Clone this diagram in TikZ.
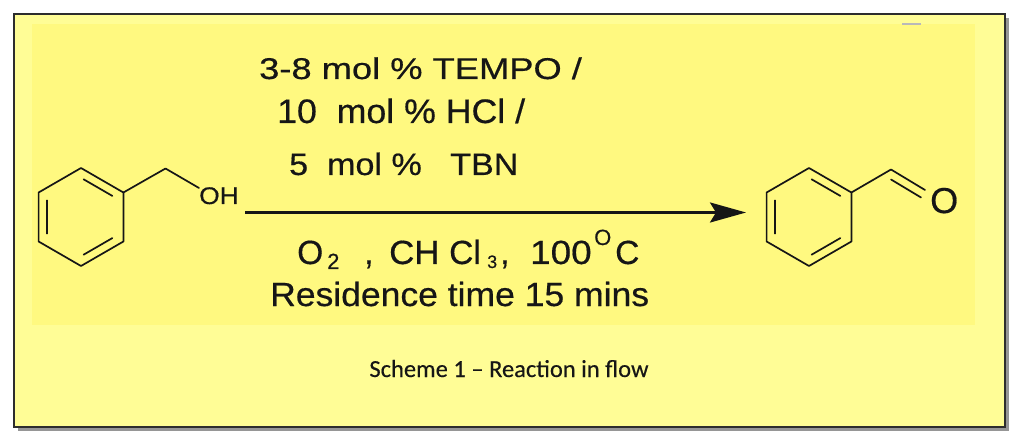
\documentclass[tikz,border=0pt]{standalone}
\usepackage{fontspec}
\setmainfont{Liberation Sans}[FakeBold=0.45]
\newfontfamily\capfont{Carlito}[FakeBold=0.3]
\usetikzlibrary{arrows.meta,calc}
\definecolor{outerY}{RGB}{255,253,150}
\definecolor{innerY}{RGB}{255,249,128}
\definecolor{frameC}{RGB}{45,45,45}
\definecolor{shadowC}{RGB}{150,150,150}
\definecolor{inkC}{RGB}{22,22,22}
\begin{document}
\begin{tikzpicture}[x=1pt,y=-1pt,
  bond/.style={line width=1.7pt, line cap=round, line join=round, draw=inkC},
  dbl/.style={bond, shorten >=3pt, shorten <=3pt},
  txt/.style={inner sep=0pt, anchor=base west, text=inkC},
  bigtxt/.style={txt, font=\fontsize{33.5}{34}\selectfont},
  subtxt/.style={txt, font=\fontsize{22}{22}\selectfont},
  sub3txt/.style={txt, font=\fontsize{18}{18}\selectfont}]
\useasboundingbox (0,0) rectangle (1024,443);
% frame
\fill[shadowC] (18,18) rectangle (1009,431);
\draw[frameC, line width=1.5pt, fill=outerY] (14,14) rectangle (1005,427);
\fill[innerY] (32,24) rectangle (975,325);
\draw[gray!55, line width=1.5pt] (902,24) -- (921,24);
% benzyl alcohol
\coordinate (a0) at (81,217);
\coordinate (a1) at (81,168);
\coordinate (a2) at (123.4,192.5);
\coordinate (a3) at (123.4,241.5);
\coordinate (a4) at (81,266);
\coordinate (a5) at (38.6,241.5);
\coordinate (a6) at (38.6,192.5);
\coordinate (a7) at (165.5,168.5);
\coordinate (a8) at (199,188);
\draw[bond] (a1)--(a2)--(a3)--(a4)--(a5)--(a6)--cycle;
\draw[dbl] ($(a0)!0.8!(a1)$) -- ($(a0)!0.8!(a2)$);
\draw[dbl] ($(a0)!0.8!(a3)$) -- ($(a0)!0.8!(a4)$);
\draw[dbl] ($(a0)!0.8!(a5)$) -- ($(a0)!0.8!(a6)$);
\draw[bond] (a2)--(a7)--(a8);
\node[txt, font=\fontsize{24}{24}\selectfont] (oh) at (199,204) {\scalebox{1.1}[1]{OH}};
% benzaldehyde
\coordinate (b0) at (809,217);
\coordinate (b1) at (809,168);
\coordinate (b2) at (851.4,192.5);
\coordinate (b3) at (851.4,241.5);
\coordinate (b4) at (809,266);
\coordinate (b5) at (766.6,241.5);
\coordinate (b6) at (766.6,192.5);
\coordinate (b7) at (891,169.5);
\coordinate (b8) at (925,190);
\coordinate (b9) at (891,179.5);
\coordinate (b10) at (921,197.5);
\draw[bond] (b1)--(b2)--(b3)--(b4)--(b5)--(b6)--cycle;
\draw[dbl] ($(b0)!0.8!(b1)$) -- ($(b0)!0.8!(b2)$);
\draw[dbl] ($(b0)!0.8!(b3)$) -- ($(b0)!0.8!(b4)$);
\draw[dbl] ($(b0)!0.8!(b5)$) -- ($(b0)!0.8!(b6)$);
\draw[bond] (b2)--(b7)--(b8);
\draw[bond] (b9)--(b10);
\node[txt, font=\fontsize{36}{36}\selectfont] (ox) at (930,213) {O};
% arrow
\coordinate (arrS) at (245,212.5);
\coordinate (arrE) at (746,212.5);
\draw[draw=inkC, fill=inkC, line width=2.8pt, -{Stealth[length=36pt,width=20pt,inset=6pt]}] (arrS) -- (arrE);
% reagents above
\node[txt, font=\fontsize{30}{30}\selectfont] (r1) at (259,79) {\scalebox{1.21}[1]{3-8 mol \% TEMPO /}};
\node[txt, font=\fontsize{34}{34}\selectfont] (r2) at (277,123) {\scalebox{1.05}[1]{10\ \ mol \% HCl /}};
\node[txt, font=\fontsize{31}{31}\selectfont] (r3) at (289,175) {\scalebox{1.1}[1]{5\ \ mol \%\ \ \ TBN}};
% conditions below
\node[bigtxt] (c1) at (297,264) {O};
\node[subtxt] (c2) at (327,269) {2};
\node[bigtxt] (c3) at (364,264) {,};
\node[bigtxt] (c4) at (389,264) {\scalebox{1.04}[1]{CH}};
\node[bigtxt] (c5) at (449,264) {Cl};
\node[sub3txt] (c6) at (487,268) {3};
\node[bigtxt] (c7) at (500,264) {,};
\node[bigtxt] (c8) at (530,264) {\scalebox{1.1}[1]{100}};
\node[subtxt] (c9) at (594,245) {O};
\node[bigtxt] (c10) at (615,264) {C};
\node[txt, font=\fontsize{33.5}{34}\selectfont] (res) at (270,306) {\scalebox{1.06}[1]{Residence time 15 mins}};
% caption
\node[txt, anchor=base, font=\capfont\fontsize{24.5}{25}\selectfont] (cap) at (509,377) {Scheme 1 – Reaction in flow};
\end{tikzpicture}
\end{document}
